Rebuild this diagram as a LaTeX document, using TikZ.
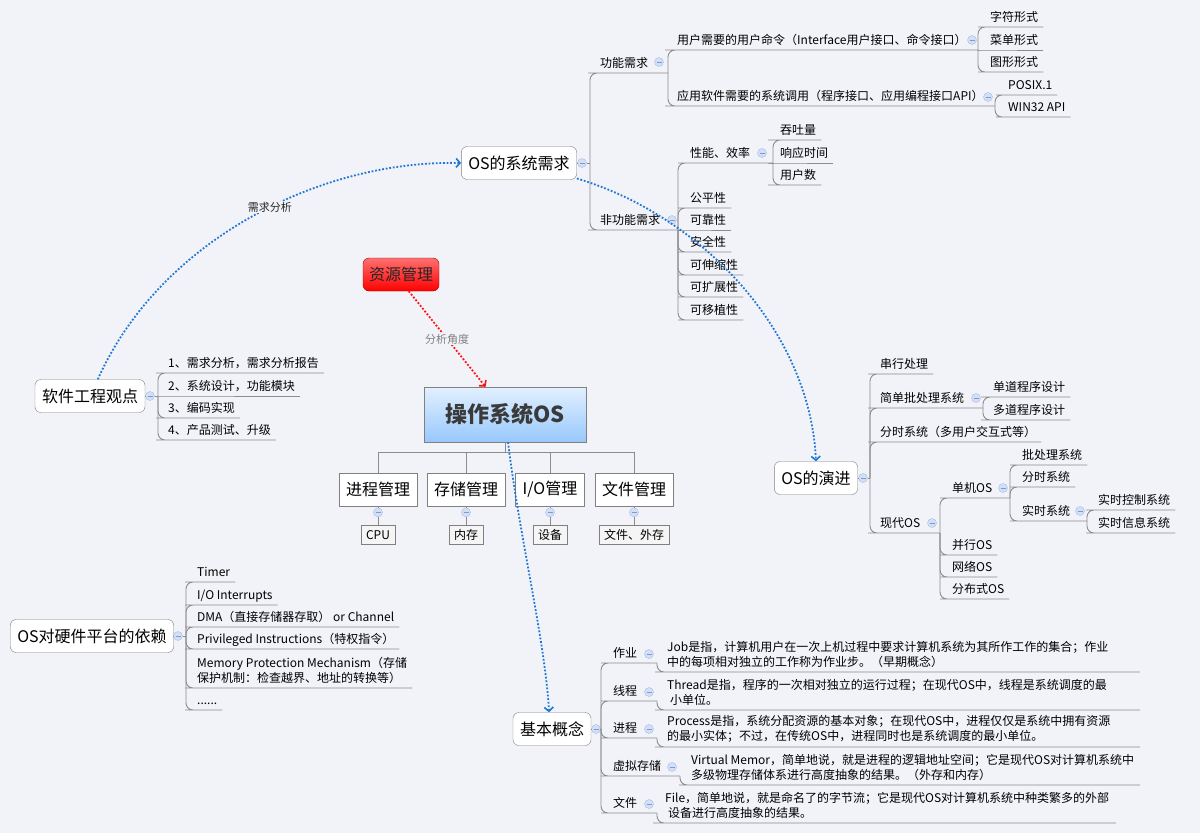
\documentclass[tikz,border=0pt]{standalone}
\usepackage{fontspec}
\setmainfont{Noto Sans CJK SC}
\usetikzlibrary{arrows.meta,positioning}
\definecolor{mapbg}{HTML}{F2F3F9}
\definecolor{mapline}{HTML}{8C8C8C}
\definecolor{boxline}{HTML}{808080}
\definecolor{foldfill}{HTML}{D3DFF4}
\definecolor{foldline}{HTML}{A6BCE4}
\definecolor{foldmark}{HTML}{7C9BD4}
\definecolor{relblue}{HTML}{1F78D6}
\definecolor{relred}{HTML}{FF1010}
\definecolor{ostop}{HTML}{E2F0FF}
\definecolor{osbot}{HTML}{98C8FC}
\definecolor{restop}{HTML}{FF7070}
\definecolor{resbot}{HTML}{FF0000}
\definecolor{txtgray}{HTML}{3A3A3A}
\newcommand\tfont{\fontsize{12}{15.5}\selectfont}
\newcommand\bfont{\fontsize{16}{19}\selectfont}
\tikzset{
  topic/.style={anchor=south west, inner xsep=5pt, inner ysep=0pt, text depth=5.5pt, font=\tfont},
  desc/.style={anchor=south west, inner xsep=5pt, inner ysep=4pt, align=left, font=\tfont},
  branch/.style={draw=mapline, line width=0.9pt, rounded corners=7pt},
  tree/.style={draw=mapline, line width=0.9pt},
  mainbox/.style={draw=boxline, fill=white, rounded corners=6pt, minimum height=33pt, inner xsep=7pt, font=\bfont},
  tbox/.style={draw=boxline, fill=white, minimum height=33pt, inner xsep=7pt, font=\bfont},
  sbox/.style={draw=boxline, fill=black!4, minimum height=19pt, inner xsep=5pt, inner ysep=1pt, font=\tfont},
  fold/.style={circle, draw=foldline, fill=foldfill, minimum size=9pt, inner sep=0pt,
    path picture={\draw[foldmark, line width=0.8pt] ([xshift=-2.5pt]path picture bounding box.center) -- ([xshift=2.5pt]path picture bounding box.center);}},
  rel/.style={relblue, line width=1.8pt, dash pattern=on 1.8pt off 1.8pt,
    -{Straight Barb[length=4pt,width=9pt,line width=1.6pt]}},
  relr/.style={rel, relred},
  rellabel/.style={fill=mapbg, inner sep=1pt, text=black!85, font=\fontsize{11}{13}\selectfont},
}

\begin{document}
\begin{tikzpicture}[x=1pt, y=-1pt]
  \fill[mapbg] (0,0) rectangle (1200,833);
  \useasboundingbox (0,0) rectangle (1200,833);

  % OS的系统需求
  \node[mainbox] (req) at (519,163) {OS的系统需求};
  \node[fold] (req-f) at (582,163) {};
  \coordinate (req-b) at (590,163);
  \draw[branch] (req) -- (req-f) -- (req-b);

  \node[topic] (fn) at (595,73) {功能需求};
  \node[fold] (fn-f) at (659,62) {};
  \coordinate (fn-b) at (668,73);
  \draw[branch] (req-b) |- (fn.south west) -- (fn-b);

  \node[topic] (cmd) at (672,50) {用户需要的用户命令（Interface用户接口、命令接口）};
  \node[fold] (cmd-f) at (972,40) {};
  \coordinate (cmd-b) at (978,50);
  \draw[branch] (fn-b) |- (cmd.south west) -- (cmd-b);
  \node[topic] (zf) at (985,27) {字符形式};
  \node[topic] (cd) at (985,50) {菜单形式};
  \node[topic] (tx) at (985,72) {图形形式};
  \draw[branch] (cmd-b) |- (zf.south west) -- (zf.south east);
  \draw[branch] (cmd-b) -- (cd.south west) -- (cd.south east);
  \draw[branch] (cmd-b) |- (tx.south west) -- (tx.south east);

  \node[topic] (api) at (672,106) {应用软件需要的系统调用（程序接口、应用编程接口API）};
  \node[fold] (api-f) at (988,97) {};
  \coordinate (api-b) at (995,106);
  \draw[branch] (fn-b) |- (api.south west) -- (api-b);
  \node[topic] (posix) at (1003,95) {POSIX.1};
  \node[topic] (win) at (1003,117) {WIN32 API};
  \draw[branch] (api-b) |- (posix.south west) -- (posix.south east);
  \draw[branch] (api-b) |- (win.south west) -- (win.south east);

  \node[topic] (nfn) at (595,230) {非功能需求};
  \node[fold] (nfn-f) at (672,220) {};
  \coordinate (nfn-b) at (678,230);
  \draw[branch] (req-b) |- (nfn.south west) -- (nfn-b);

  \node[topic] (perf) at (685,163) {性能、效率};
  \node[fold] (perf-f) at (762,153) {};
  \coordinate (perf-b) at (773,163);
  \draw[branch] (nfn-b) |- (perf.south west) -- (perf-b);
  \node[topic] (tp) at (775,140) {吞吐量};
  \node[topic] (rt) at (775,163) {响应时间};
  \node[topic] (un) at (775,185) {用户数};
  \draw[branch] (perf-b) |- (tp.south west) -- (tp.south east);
  \draw[branch] (perf-b) -- (rt.south west) -- (rt.south east);
  \draw[branch] (perf-b) |- (un.south west) -- (un.south east);

  \node[topic] (gp) at (685,208) {公平性};
  \node[topic] (kk) at (685,230) {可靠性};
  \node[topic] (aq) at (685,252) {安全性};
  \node[topic] (ss) at (685,275) {可伸缩性};
  \node[topic] (kz) at (685,297) {可扩展性};
  \node[topic] (yz) at (685,320) {可移植性};
  \draw[branch] (nfn-b) |- (gp.south west) -- (gp.south east);
  \draw[branch] (nfn-b) -- (kk.south west) -- (kk.south east);
  \foreach \n in {aq,ss,kz,yz}
    \draw[branch] (nfn-b) |- (\n.south west) -- (\n.south east);

  % 软件工程观点
  \node[mainbox] (se) at (90,396) {软件工程观点};
  \node[fold] (se-f) at (150,396) {};
  \coordinate (se-b) at (158,396);
  \draw[branch] (se) -- (se-f) -- (se-b);
  \node[topic] (s1) at (163,373) {1、需求分析，需求分析报告};
  \node[topic] (s2) at (163,396) {2、系统设计，功能模块};
  \node[topic] (s3) at (163,418) {3、编码实现};
  \node[topic] (s4) at (163,440) {4、产品测试、升级};
  \draw[branch] (se-b) |- (s1.south west) -- (s1.south east);
  \draw[branch] (se-b) -- (s2.south west) -- (s2.south east);
  \draw[branch] (se-b) |- (s3.south west) -- (s3.south east);
  \draw[branch] (se-b) |- (s4.south west) -- (s4.south east);

  % 资源管理 / 操作系统OS
  \node[draw=red!60!black, rounded corners=6pt, top color=restop, bottom color=resbot,
    minimum height=33pt, inner xsep=6pt, font=\bfont, text=black!85] (res) at (401,274.5) {资源管理};
  \node[draw=boxline, top color=ostop, bottom color=osbot, minimum width=162pt, minimum height=55pt,
    font=\fontsize{22}{26}\selectfont\bfseries, text=txtgray] (os) at (505,414.5) {操作系统OS};
  \coordinate (os-bar) at (505,452);

  \node[tbox] (pm) at (378,489.5) {进程管理};
  \node[tbox] (cm) at (466,489.5) {存储管理};
  \node[tbox] (io) at (550,489.5) {I/O管理};
  \node[tbox] (fm) at (634,489.5) {文件管理};
  \foreach \n in {pm,cm,io,fm}
    \draw[tree] (os.south) -- (os-bar) -| (\n.north);

  \node[fold, below=1.5pt of pm] (pm-f) {};
  \node[fold, below=1.5pt of cm] (cm-f) {};
  \node[fold, below=1.5pt of io] (io-f) {};
  \node[fold, below=1.5pt of fm] (fm-f) {};
  \node[sbox, below=19pt of pm] (cpu) {CPU};
  \node[sbox, below=19pt of cm] (nc) {内存};
  \node[sbox, below=19pt of io] (sb) {设备};
  \node[sbox, below=19pt of fm] (wc) {文件、外存};
  \draw[tree] (pm) -- (pm-f) -- (cpu);
  \draw[tree] (cm) -- (cm-f) -- (nc);
  \draw[tree] (io) -- (io-f) -- (sb);
  \draw[tree] (fm) -- (fm-f) -- (wc);

  % OS的演进
  \node[mainbox] (evo) at (816,478) {OS的演进};
  \node[fold] (evo-f) at (863,478) {};
  \coordinate (evo-b) at (870,478);
  \draw[branch] (evo) -- (evo-f) -- (evo-b);

  \node[topic] (cx) at (875,374) {串行处理};
  \draw[branch] (evo-b) |- (cx.south west) -- (cx.south east);
  \node[topic] (jd) at (875,408) {简单批处理系统};
  \node[fold] (jd-f) at (976,398) {};
  \coordinate (jd-b) at (983,408);
  \draw[branch] (evo-b) |- (jd.south west) -- (jd-b);
  \node[topic] (dd) at (988,397) {单道程序设计};
  \node[topic] (md) at (988,420) {多道程序设计};
  \draw[branch] (jd-b) |- (dd.south west) -- (dd.south east);
  \draw[branch] (jd-b) |- (md.south west) -- (md.south east);
  \node[topic] (fs) at (875,442) {分时系统（多用户交互式等）};
  \draw[branch] (evo-b) |- (fs.south west) -- (fs.south east);

  \node[topic] (xd) at (875,533) {现代OS};
  \node[fold] (xd-f) at (932,523) {};
  \coordinate (xd-b) at (940,533);
  \draw[branch] (evo-b) |- (xd.south west) -- (xd-b);
  \node[topic] (dj) at (947,498) {单机OS};
  \node[fold] (dj-f) at (1003,488) {};
  \coordinate (dj-b) at (1010,498);
  \draw[branch] (xd-b) |- (dj.south west) -- (dj-b);
  \node[topic] (pc) at (1017,465) {批处理系统};
  \node[topic] (fs2) at (1017,487) {分时系统};
  \node[topic] (rs) at (1017,521) {实时系统};
  \node[fold] (rs-f) at (1080,511) {};
  \coordinate (rs-b) at (1087,521);
  \draw[branch] (dj-b) |- (pc.south west) -- (pc.south east);
  \draw[branch] (dj-b) |- (fs2.south west) -- (fs2.south east);
  \draw[branch] (dj-b) |- (rs.south west) -- (rs-b);
  \node[topic] (rk) at (1093,510) {实时控制系统};
  \node[topic] (rx) at (1093,533) {实时信息系统};
  \draw[branch] (rs-b) |- (rk.south west) -- (rk.south east);
  \draw[branch] (rs-b) |- (rx.south west) -- (rx.south east);
  \node[topic] (bx) at (947,555) {并行OS};
  \node[topic] (wl) at (947,577) {网络OS};
  \node[topic] (fb) at (947,599) {分布式OS};
  \foreach \n in {bx,wl,fb}
    \draw[branch] (xd-b) |- (\n.south west) -- (\n.south east);

  % OS对硬件平台的依赖
  \node[mainbox] (hw) at (92,636) {OS对硬件平台的依赖};
  \node[fold] (hw-f) at (178,636) {};
  \coordinate (hw-b) at (186,636);
  \draw[branch] (hw) -- (hw-f) -- (hw-b);
  \node[topic] (h1) at (192,582) {Timer};
  \node[topic] (h2) at (192,605) {I/O Interrupts};
  \node[topic] (h3) at (192,627) {DMA（直接存储器存取） or Channel};
  \node[topic] (h4) at (192,649) {Privileged Instructions（特权指令）};
  \node[desc] (h5) at (192,688) {Memory Protection Mechanism（存储\\保护机制：检查越界、地址的转换等）};
  \node[topic] (h6) at (192,710) {......};
  \foreach \n in {h1,h2,h3,h4,h5,h6}
    \draw[branch] (hw-b) |- (\n.south west) -- (\n.south east);

  % 基本概念
  \node[mainbox] (bc) at (552,729) {基本概念};
  \node[fold] (bc-f) at (596,729) {};
  \coordinate (bc-b) at (601,729);
  \coordinate (bc-r) at (1140,0);
  \coordinate (wj-r) at (1116,0);
  \draw[branch] (bc) -- (bc-f) -- (bc-b);

  \node[topic] (zy) at (608,663) {作业};
  \node[fold] (zy-f) at (649,654) {};
  \coordinate (zy-b) at (657,663);
  \node[desc] (zy-d) at (662,672) {Job是指，计算机用户在一次上机过程中要求计算机系统为其所作工作的集合；作业\\中的每项相对独立的工作称为作业步。（早期概念）};
  \node[topic] (xc) at (608,701) {线程};
  \node[fold] (xc-f) at (649,692) {};
  \coordinate (xc-b) at (657,701);
  \node[desc] (xc-d) at (662,710) {Thread是指，程序的一次相对独立的运行过程；在现代OS中，线程是系统调度的最\\\hspace*{3pt}小单位。};
  \node[topic] (jc) at (608,738) {进程};
  \node[fold] (jc-f) at (649,729) {};
  \coordinate (jc-b) at (657,738);
  \node[desc] (jc-d) at (662,747) {Process是指，系统分配资源的基本对象；在现代OS中，进程仅仅是系统中拥有资源\\的最小实体；不过，在传统OS中，进程同时也是系统调度的最小单位。};
  \node[topic] (xn) at (608,776) {虚拟存储};
  \node[fold] (xn-f) at (672,767) {};
  \coordinate (xn-b) at (680,776);
  \node[desc] (xn-d) at (686,785) {Virtual Memor，简单地说，就是进程的逻辑地址空间；它是现代OS对计算机系统中\\多级物理存储体系进行高度抽象的结果。（外存和内存）};
  \node[topic] (wj) at (608,813) {文件};
  \node[fold] (wj-f) at (649,804) {};
  \coordinate (wj-b) at (657,813);
  \node[desc] (wj-d) at (660,823) {File，简单地说，就是命名了的字节流；它是现代OS对计算机系统中种类繁多的外部\\\hspace*{3pt}设备进行高度抽象的结果。};

  \foreach \n in {zy,xc,jc,xn,wj}
    \draw[branch] (bc-b) |- (\n.south west) -- (\n-b);
  \foreach \n in {zy,xc,jc,xn}
    \draw[branch] (\n-b) |- (\n-d.south west) -- (\n-d.south west -| bc-r);
  \draw[branch] (wj-b) |- (wj-d.south west) -- (wj-d.south west -| wj-r);

  % relations
  \draw[rel] (se.65) .. controls (160,240) and (320,160) .. (req.west)
    node[pos=0.55, rellabel] {需求分析};
  \draw[rel] (req.-15) .. controls (700,215) and (810,330) .. (evo.north);
  \draw[rel] ([xshift=3pt]os.south) .. controls (520,540) and (545,640) .. (bc.100);
  \draw[relr] (res.-65) -- (os.125) node[midway, rellabel, text=gray] {分析角度};
\end{tikzpicture}
\end{document}
